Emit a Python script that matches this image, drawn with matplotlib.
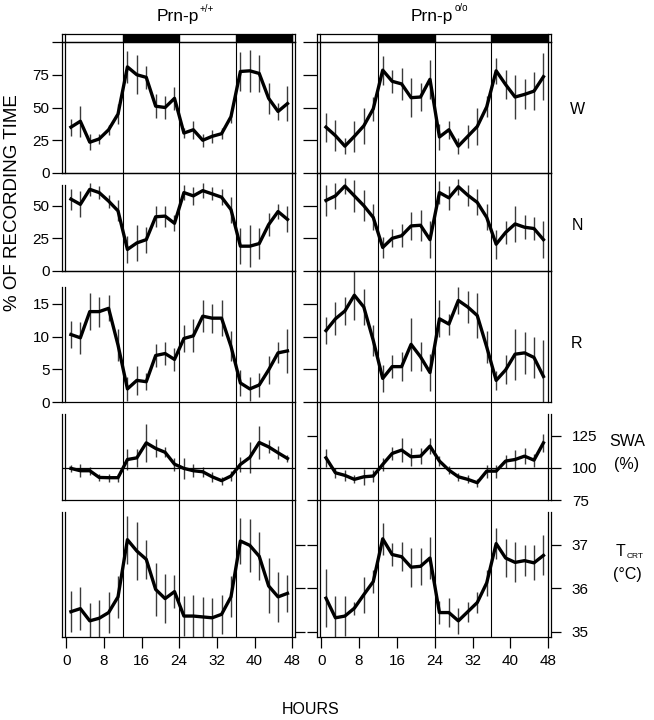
import matplotlib
matplotlib.use("Agg")
import matplotlib.pyplot as plt
from matplotlib.transforms import offset_copy

plt.rcParams['font.family'] = ['Liberation Sans', 'DejaVu Sans']

W_PX, H_PX = 654, 720

# sampling times (h) and light/dark schedule
hours = [1, 3, 5, 7, 9, 11, 13, 15, 17, 19, 21, 23, 25, 27, 29, 31, 33, 35, 37, 39, 41, 43, 45, 47]
dark_periods = [(12, 12), (36, 12)]
dividers = [12, 24, 36]

# Prn-p +/+  (left column)
wt_W = [35, 39.5, 23.5, 26, 33, 45, 81, 75, 73, 51, 50, 57, 30.5, 33, 25, 28, 30, 43, 77.5, 78, 76, 57, 47, 53]
wt_W_err = [6.5, 12, 6, 4, 4, 7.5, 12, 15, 9, 9, 9, 9, 4, 7, 5, 5, 4, 4.5, 15, 16, 14, 12, 6.5, 13.5]
wt_N = [55, 51, 62.5, 60, 53.5, 46, 16.5, 21.5, 24, 41.5, 42, 36.5, 60, 57.5, 61.5, 59, 56.5, 47, 19, 19, 21, 35.5, 45.5, 39.5]
wt_N_err = [8, 10, 5, 5, 5, 8, 10, 14, 10, 8, 8, 6, 6, 7, 6, 5, 6, 10, 14, 16, 12, 9, 6, 10]
wt_R = [10.3, 9.8, 13.8, 13.8, 14.3, 8.7, 2.0, 3.3, 3.1, 7.1, 7.4, 6.5, 9.7, 10.1, 13.1, 12.8, 12.8, 8.5, 2.9, 2.0, 2.6, 4.9, 7.5, 7.8]
wt_R_err = [2.0, 2.4, 2.8, 2.3, 2.0, 2.5, 1.8, 2.2, 1.3, 1.8, 1.8, 1.8, 2.0, 2.5, 2.4, 2.2, 2.7, 2.3, 2.0, 1.8, 1.8, 2.1, 1.6, 3.3]
wt_SWA = [99.5, 97.7, 97.7, 92.5, 92.3, 92.3, 106.4, 107.7, 119.3, 115, 112, 102.8, 99.5, 97.7, 96.9, 93, 90, 93.6, 102.6, 108, 119.6, 116.2, 111.6, 107.2]
wt_SWA_err = [3, 5, 3, 3, 3, 3, 8, 7, 15, 7, 4, 5, 8, 5, 4, 4, 3, 4, 6, 12, 13, 5, 5, 3]
wt_T = [35.46, 35.53, 35.25, 35.31, 35.44, 35.80, 37.11, 36.85, 36.66, 35.97, 35.76, 35.92, 35.36, 35.36, 35.34, 35.32, 35.40, 35.80, 37.08, 36.98, 36.73, 36.05, 35.80, 35.88]
wt_T_err = [0.47, 0.5, 0.4, 0.42, 0.46, 0.48, 0.55, 0.66, 0.44, 0.6, 0.56, 0.38, 0.46, 0.48, 0.45, 0.45, 0.45, 0.47, 0.53, 0.6, 0.55, 0.63, 0.58, 0.42]

# Prn-p o/o  (right column)
ko_W = [35, 28.5, 20.5, 28, 36, 49, 78.5, 70, 68, 57.5, 58, 71.5, 27.5, 33, 20.5, 28, 35.5, 50.5, 78, 67.5, 58, 60, 62.5, 73.5]
ko_W_err = [11, 12, 6, 12, 14, 9, 11, 9, 12, 15, 11, 15, 10, 7, 6, 9, 14, 8, 10, 11, 17, 11.5, 14.5, 18]
ko_N = [54, 57.5, 65, 57.5, 50, 41, 18, 25, 27, 34.5, 35, 24, 60, 56, 64.5, 58, 52.5, 41, 20.5, 29.5, 36, 33.5, 32.5, 24]
ko_N_err = [12, 10, 6, 12, 12, 10, 8, 7, 9, 11, 12, 14, 9, 9, 6, 8, 10, 10, 11, 9, 14, 9, 9, 14]
ko_R = [10.9, 12.7, 13.9, 16.3, 14.5, 9.4, 3.6, 5.4, 5.4, 8.8, 6.9, 4.5, 12.7, 11.9, 15.5, 14.5, 13.2, 8.4, 3.3, 4.9, 7.3, 7.5, 6.8, 3.9]
ko_R_err = [2.1, 2.5, 2.1, 3.8, 2.8, 2.4, 2.0, 1.7, 2.2, 4.0, 2.2, 2.8, 2.8, 1.6, 2.1, 2.5, 3.5, 2.5, 1.5, 2.2, 3.9, 3.2, 3.2, 5.5]
ko_SWA = [107.7, 96.1, 94.1, 91, 93, 93.6, 102.6, 111.1, 113.7, 108.5, 109, 116.8, 105.2, 98.2, 93, 91, 88.4, 97.4, 97.4, 105.2, 106.4, 109, 105.9, 119.3]
ko_SWA_err = [7, 4, 4, 3, 6, 5, 5, 5, 9, 7, 6, 6, 4, 3, 3, 3, 3, 5, 5, 5, 7, 6, 5, 7]
ko_T = [35.77, 35.32, 35.36, 35.54, 35.85, 36.15, 37.13, 36.77, 36.72, 36.48, 36.5, 36.69, 35.44, 35.44, 35.25, 35.46, 35.67, 36.12, 37.02, 36.69, 36.59, 36.63, 36.58, 36.75]
ko_T_err = [0.67, 0.49, 0.45, 0.15, 0.41, 0.26, 0.37, 0.26, 0.33, 0.45, 0.42, 0.48, 0.26, 0.33, 0.3, 0.23, 0.23, 0.29, 0.35, 0.44, 0.46, 0.35, 0.4, 0.46]

# y scales of the five rows
W_ticks, W_labels = [0, 25, 50, 75, 100], ['0', '25', '50', '75', '']
N_ticks, N_labels = [0, 25, 50], ['0', '25', '50']
R_ticks, R_labels = [0, 5, 10, 15], ['0', '5', '10', '15']
SWA_ticks = [75, 100, 125]
T_ticks = [35, 36, 37]
x_ticks = [0, 8, 16, 24, 32, 40, 48]

fig = plt.figure(figsize=(W_PX / 100, H_PX / 100), dpi=100)

LW = 0.9
TICK = 7
FS = 11


def add_ax(x0, y0, x1, y1):
    ax = fig.add_axes([x0 / W_PX, 1 - y1 / H_PX, (x1 - x0) / W_PX, (y1 - y0) / H_PX])
    ax.set_facecolor('none')
    return ax


def double(ax, side, top=1.0):
    # old-style double frame line, drawn 3 px inside the spine
    dx = 3 if side == 'left' else -3
    xf = 0 if side == 'left' else 1
    tr = offset_copy(ax.transAxes, fig=fig, x=dx, y=0, units='dots')
    ax.plot([xf, xf], [0, top], transform=tr, color='black', lw=LW, clip_on=False)


def gap_spine(ax, side, top):
    lo, hi = ax.get_ylim()
    ax.spines[side].set_bounds(lo, lo + top * (hi - lo))


def panel(ax, vals, errs, ylim):
    ax.set_xlim(-0.9, 48.6)
    ax.set_ylim(*ylim)
    for d in dividers:
        ax.axvline(d, color='black', lw=0.8)
    ax.errorbar(hours, vals, yerr=errs, color='black', lw=2.4, elinewidth=1.0,
                ecolor='#3a3a3a', capsize=0)
    for s in ax.spines.values():
        s.set_linewidth(LW)
    ax.tick_params(direction='out', length=TICK, width=LW, labelsize=FS, pad=2)
    ax.set_xticks([])


cols = [(62, 295), (317, 551)]
rows = {'bar': (34, 42), 'W': (42, 173), 'N': (173, 271), 'R': (271, 402),
        'SWA': (402, 500), 'T': (500, 637)}

data = [
    dict(W=(wt_W, wt_W_err), N=(wt_N, wt_N_err), R=(wt_R, wt_R_err),
         SWA=(wt_SWA, wt_SWA_err), T=(wt_T, wt_T_err)),
    dict(W=(ko_W, ko_W_err), N=(ko_N, ko_N_err), R=(ko_R, ko_R_err),
         SWA=(ko_SWA, ko_SWA_err), T=(ko_T, ko_T_err)),
]
ylims = dict(W=(0, 100), N=(0, 75), R=(0, 20), SWA=(75, 151), T=(34.88, 38.02))
ticks = dict(W=(W_ticks, W_labels), N=(N_ticks, N_labels), R=(R_ticks, R_labels))

for ci, (x0, x1) in enumerate(cols):
    # light / dark bar
    axb = add_ax(x0, rows['bar'][0], x1, rows['bar'][1])
    axb.set_xlim(-0.9, 48.6)
    axb.set_ylim(0, 1)
    axb.broken_barh(dark_periods, (0, 1), color='black')
    axb.set_xticks([])
    axb.set_yticks([])
    for s in axb.spines.values():
        s.set_linewidth(LW)
    double(axb, 'left')
    double(axb, 'right')

    for key in ['W', 'N', 'R']:
        y0, y1 = rows[key]
        ax = add_ax(x0, y0, x1, y1)
        vals, errs = data[ci][key]
        panel(ax, vals, errs, ylims[key])
        tk, lb = ticks[key]
        ax.set_yticks(tk)
        if ci == 0:
            ax.set_yticklabels(lb)
            top = 1.0 if key == 'W' else 0.88
            if key != 'W':
                gap_spine(ax, 'left', top)
            double(ax, 'left', top)
            double(ax, 'right')
        else:
            ax.set_yticklabels([])
            ax.tick_params(axis='y', length=10)
            double(ax, 'left')
            double(ax, 'right')

    # SWA row
    y0, y1 = rows['SWA']
    ax = add_ax(x0, y0, x1, y1)
    vals, errs = data[ci]['SWA']
    panel(ax, vals, errs, ylims['SWA'])
    ax.axhline(100, color='black', lw=LW)
    ax.spines['top'].set_visible(False)
    if ci == 0:
        ax.set_yticks([])
        gap_spine(ax, 'left', 0.88)
        double(ax, 'left', 0.88)
        double(ax, 'right')
    else:
        ax.set_yticks(SWA_ticks)
        ax.tick_params(axis='y', left=True, right=True, labelleft=False, labelright=True, pad=8)
        gap_spine(ax, 'right', 0.88)
        double(ax, 'left')
        double(ax, 'right', 0.88)

    # T row
    y0, y1 = rows['T']
    ax = add_ax(x0, y0, x1, y1)
    vals, errs = data[ci]['T']
    panel(ax, vals, errs, ylims['T'])
    ax.spines['top'].set_visible(False)
    ax.set_yticks(T_ticks)
    ax.set_xticks(x_ticks)
    ax.tick_params(axis='x', length=8, pad=4)
    if ci == 0:
        ax.tick_params(axis='y', left=False, right=True, labelleft=False, labelright=False)
        gap_spine(ax, 'left', 0.91)
        double(ax, 'left', 0.91)
        double(ax, 'right')
    else:
        ax.tick_params(axis='y', left=True, right=True, labelleft=False, labelright=True, pad=8)
        gap_spine(ax, 'right', 0.91)
        double(ax, 'left')
        double(ax, 'right', 0.91)


def ftext(x, y, s, **kw):
    fig.text(x / W_PX, 1 - y / H_PX, s, **kw)


ftext(157, 17, 'Prn-p', fontsize=12.5, ha='left', va='center')
ftext(200, 9, '+/+', fontsize=7, ha='left', va='center')
ftext(411, 17, 'Prn-p', fontsize=12.5, ha='left', va='center')
ftext(455, 8, 'o/o', fontsize=7, ha='left', va='center')

ftext(577, 110, 'W', fontsize=11.5, ha='center', va='center')
ftext(577, 226, 'N', fontsize=11.5, ha='center', va='center')
ftext(577, 343, 'R', fontsize=11.5, ha='center', va='center')
ftext(627, 442, 'SWA', fontsize=11.5, ha='center', va='center')
ftext(627, 464, '(%)', fontsize=11.5, ha='center', va='center')
ftext(621, 552, 'T', fontsize=11.5, ha='center', va='center')
ftext(627, 557, 'CRT', fontsize=6, ha='left', va='center')
ftext(627, 574, '(°C)', fontsize=11.5, ha='center', va='center')

ftext(13, 203, '% OF RECORDING TIME', fontsize=13.5, rotation=90, ha='center', va='center')
ftext(311, 710, 'HOURS', fontsize=11.5, ha='center', va='center')

fig.savefig('out.png', dpi=100)
